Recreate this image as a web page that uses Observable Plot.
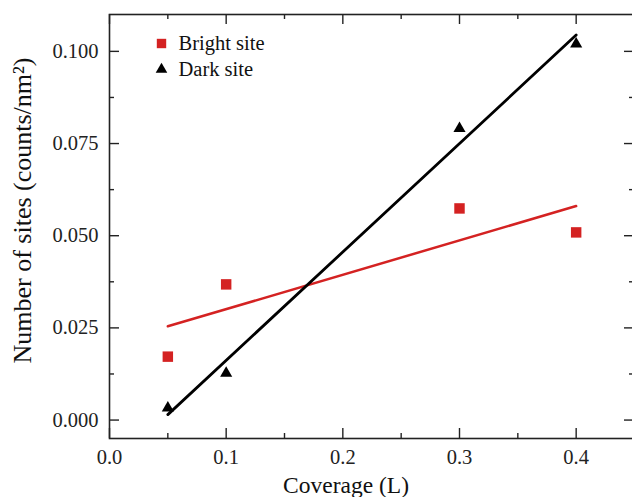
<!DOCTYPE html>
<html><head><meta charset="utf-8">
<script src="https://cdn.jsdelivr.net/npm/d3@7"></script>
<script src="https://cdn.jsdelivr.net/npm/@observablehq/plot@0.6"></script>
<style>body{margin:0;overflow:hidden;background:#fff}</style>
</head><body><div id="chart"></div>
<script>
const coverage = [0.05, 0.1, 0.3, 0.4];
const brightSite = [0.0172, 0.0368, 0.0574, 0.0509];
const darkSite = [0.0033, 0.0127, 0.0791, 0.1020];
const xTicks = [0, 0.1, 0.2, 0.3, 0.4];
const xMinorTicks = [0.05, 0.15, 0.25, 0.35];
const yTicks = [0, 0.025, 0.05, 0.075, 0.1];
const yMinorTicks = [0.0125, 0.0375, 0.0625, 0.0875];
const seriesNames = ["Bright site", "Dark site"];
const seriesColors = ["#d42222", "#000000"];
const xTitle = "Coverage (L)";
const yTitle = "Number of sites (counts/nm\u00b2)";

const bright = coverage.map((x, i) => ({x, y: brightSite[i]}));
const dark = coverage.map((x, i) => ({x, y: darkSite[i]}));

const W = 632, H = 497, mt = 14, mb = 59, ml = 109, mr = -2;
const ph = H - mt - mb, pw = W - ml - mr;
const major = 10, minor = 5;
const axisColor = "#222";
const font = "'Liberation Serif', 'Times New Roman', serif";

const chart = Plot.plot({
  width: W, height: H,
  marginTop: mt, marginBottom: mb, marginLeft: ml, marginRight: mr,
  style: {fontFamily: font, fontSize: "20px", background: "#fff", color: "#000", overflow: "visible"},
  x: {domain: [0, 0.45]},
  y: {domain: [-0.005, 0.110]},
  marks: [
    Plot.frame({stroke: axisColor, strokeWidth: 1.6}),
    // bottom ticks (inward)
    Plot.tickX(xTicks, {x: d => d, insetTop: ph - major, stroke: axisColor, strokeWidth: 1.4}),
    Plot.tickX(xMinorTicks, {x: d => d, insetTop: ph - minor, stroke: axisColor, strokeWidth: 1.4}),
    // top ticks
    Plot.tickX(xTicks, {x: d => d, insetBottom: ph - major, stroke: axisColor, strokeWidth: 1.4}),
    Plot.tickX(xMinorTicks, {x: d => d, insetBottom: ph - minor, stroke: axisColor, strokeWidth: 1.4}),
    // left ticks
    Plot.tickY(yTicks, {y: d => d, insetRight: pw - major, stroke: axisColor, strokeWidth: 1.4}),
    Plot.tickY(yMinorTicks, {y: d => d, insetRight: pw - minor, stroke: axisColor, strokeWidth: 1.4}),
    // right ticks
    Plot.tickY(yTicks, {y: d => d, insetLeft: pw - major, stroke: axisColor, strokeWidth: 1.4}),
    Plot.tickY(yMinorTicks, {y: d => d, insetLeft: pw - minor, stroke: axisColor, strokeWidth: 1.4}),
    Plot.axisX({ticks: xTicks, tickSize: 0, tickPadding: 11, tickFormat: d3.format(".1f"), label: null, fontSize: 20.5, fill: "#222"}),
    Plot.axisY({ticks: yTicks, tickSize: 0, tickPadding: 11, tickFormat: d3.format(".3f"), label: null, fontSize: 20.5, fill: "#222"}),
    Plot.text([xTitle], {frameAnchor: "bottom", dx: -26, dy: 47, text: d => d, fontSize: 23.5, textAnchor: "middle", lineAnchor: "middle", fill: "#111"}),
    Plot.text([yTitle], {frameAnchor: "left", dx: -87, dy: -16, text: d => d, rotate: -90, fontSize: 26, textAnchor: "middle", lineAnchor: "middle", fill: "#111"}),
    // regression lines
    Plot.linearRegressionY(bright, {x: "x", y: "y", stroke: seriesColors[0], strokeWidth: 2.5, ci: 0}),
    Plot.linearRegressionY(dark, {x: "x", y: "y", stroke: seriesColors[1], strokeWidth: 2.8, ci: 0}),
    // points
    Plot.dot(bright, {x: "x", y: "y", symbol: "square", r: 5.9, fill: seriesColors[0], stroke: null}),
    Plot.dot(dark, {x: "x", y: "y", symbol: "triangle", r: 4.5, fill: seriesColors[1], stroke: null}),
    // legend
    Plot.dot([seriesNames[0]], {frameAnchor: "top-left", dx: 52, dy: 29, symbol: "square", r: 5.3, fill: seriesColors[0]}),
    Plot.dot([seriesNames[1]], {frameAnchor: "top-left", dx: 52, dy: 55, symbol: "triangle", r: 4.3, fill: seriesColors[1]}),
    Plot.text([seriesNames[0]], {frameAnchor: "top-left", dx: 69, dy: 29, text: d => d, textAnchor: "start", lineAnchor: "middle", fontSize: 20.5, fill: "#111"}),
    Plot.text([seriesNames[1]], {frameAnchor: "top-left", dx: 69, dy: 55, text: d => d, textAnchor: "start", lineAnchor: "middle", fontSize: 20.5, fill: "#111"})
  ]
});
document.getElementById("chart").appendChild(chart);
</script>
</body></html>
